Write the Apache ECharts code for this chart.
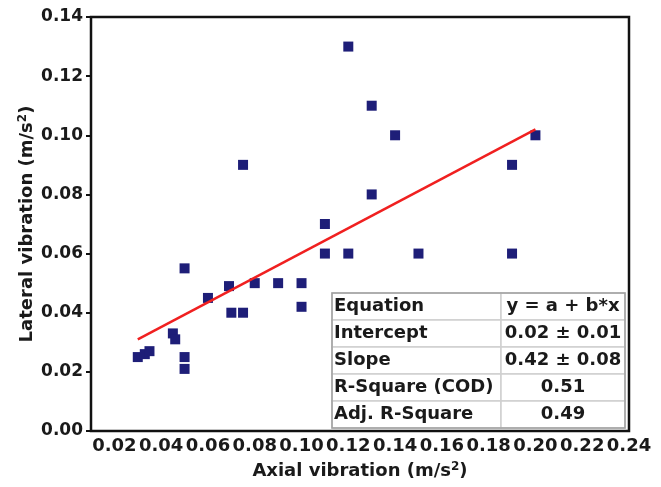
<!DOCTYPE html>
<html>
<head>
<meta charset="utf-8">
<script src="https://cdn.jsdelivr.net/npm/echarts@6/dist/echarts.min.js"></script>
<style>
  html, body { margin: 0; padding: 0; background: #fff; }
  #chart { width: 661px; height: 487px; }
</style>
</head>
<body>
<div id="chart"></div>
<script>
// measured points (axial, lateral) in m/s^2
const axial = [0.12, 0.075, 0.11, 0.13, 0.14, 0.13, 0.20, 0.19, 0.15, 0.19, 0.11, 0.12,
  0.05, 0.06, 0.069, 0.08, 0.09, 0.10, 0.10, 0.07, 0.075, 0.045, 0.046, 0.05, 0.05,
  0.030, 0.033, 0.035];
const lateral = [0.13, 0.09, 0.07, 0.11, 0.10, 0.08, 0.10, 0.09, 0.06, 0.06, 0.06, 0.06,
  0.055, 0.045, 0.049, 0.05, 0.05, 0.05, 0.042, 0.04, 0.04, 0.033, 0.031, 0.025, 0.021,
  0.025, 0.026, 0.027];

// fitted line end points
const fitX = [0.03, 0.20];
const fitY = [0.031, 0.102];

const xTicks = [0.02, 0.04, 0.06, 0.08, 0.10, 0.12, 0.14, 0.16, 0.18, 0.20, 0.22, 0.24];

const tableLabels = ['Equation', 'Intercept', 'Slope', 'R-Square (COD)', 'Adj. R-Square'];
const tableValues = ['y = a + b*x', '0.02 \u00b1 0.01', '0.42 \u00b1 0.08', '0.51', '0.49'];

const font = 'DejaVu Sans';
const ink = '#1a1a1a';

const buildTable = () => {
  const left = 332, mid = 501, right = 625, top = 293, rowH = 27;
  const items = [];
  tableLabels.forEach((label, i) => {
    const y = top + i * rowH;
    items.push({
      type: 'rect',
      shape: { x: left, y: y, width: mid - left, height: rowH },
      style: { fill: '#fff', stroke: '#d0d0d0', lineWidth: 1.5 }
    });
    items.push({
      type: 'rect',
      shape: { x: mid, y: y, width: right - mid, height: rowH },
      style: { fill: '#fff', stroke: '#d0d0d0', lineWidth: 1.5 }
    });
    items.push({
      type: 'text',
      style: {
        x: left + 2, y: y + rowH / 2, text: label,
        font: 'bold 18px "' + font + '"', fill: ink,
        textAlign: 'left', textVerticalAlign: 'middle'
      }
    });
    items.push({
      type: 'text',
      style: {
        x: (mid + right) / 2, y: y + rowH / 2, text: tableValues[i],
        font: 'bold 18px "' + font + '"', fill: ink,
        textAlign: 'center', textVerticalAlign: 'middle'
      }
    });
  });
  items.push({
    type: 'rect',
    shape: { x: left, y: top, width: right - left, height: rowH * tableLabels.length },
    style: { fill: 'none', stroke: '#a0a0a0', lineWidth: 1.5 }
  });
  return items;
};

const nameRich = {
  a: { fontFamily: font, fontWeight: 'bold', fontSize: 18, color: ink },
  sup: { fontFamily: font, fontWeight: 'bold', fontSize: 12, color: ink, verticalAlign: 'top', padding: [0, 0, 8, 0] }
};

const chart = echarts.init(document.getElementById('chart'));

chart.setOption({
  animation: false,
  grid: {
    left: 91, right: 32, top: 17, bottom: 56,
    show: true, borderColor: '#111', borderWidth: 2.5
  },
  xAxis: {
    type: 'value',
    min: 0.01,
    max: 0.24,
    name: '{a|Axial vibration (m/s}{sup|2}{a|)}',
    nameLocation: 'middle',
    nameGap: 30,
    nameTextStyle: { rich: nameRich },
    axisLine: { show: false },
    axisTick: { show: false },
    splitLine: { show: false },
    axisLabel: {
      customValues: xTicks,
      margin: 6,
      fontFamily: font,
      fontWeight: 'bold',
      fontSize: 18,
      color: ink,
      formatter: v => v.toFixed(2)
    }
  },
  yAxis: {
    type: 'value',
    min: 0,
    max: 0.14,
    interval: 0.02,
    name: '{a|Lateral vibration (m/s}{sup|2}{a|)}',
    nameLocation: 'middle',
    nameGap: 54,
    nameMoveOverlap: false,
    nameTextStyle: { rich: nameRich },
    axisLine: { show: false },
    axisTick: { show: true, length: 5, lineStyle: { color: '#111', width: 2 } },
    splitLine: { show: false },
    axisLabel: {
      margin: 8,
      fontFamily: font,
      fontWeight: 'bold',
      fontSize: 17,
      color: ink,
      formatter: v => v.toFixed(2)
    }
  },
  series: [
    {
      name: 'Data',
      type: 'scatter',
      symbol: 'rect',
      symbolSize: 10,
      itemStyle: { color: '#1e1e78', opacity: 1 },
      data: axial.map((x, i) => [x, lateral[i]]),
      z: 3
    },
    {
      name: 'Fit',
      type: 'line',
      showSymbol: false,
      lineStyle: { color: '#f02020', width: 2.5 },
      data: fitX.map((x, i) => [x, fitY[i]]),
      z: 4
    }
  ],
  graphic: buildTable()
});
</script>
</body>
</html>
